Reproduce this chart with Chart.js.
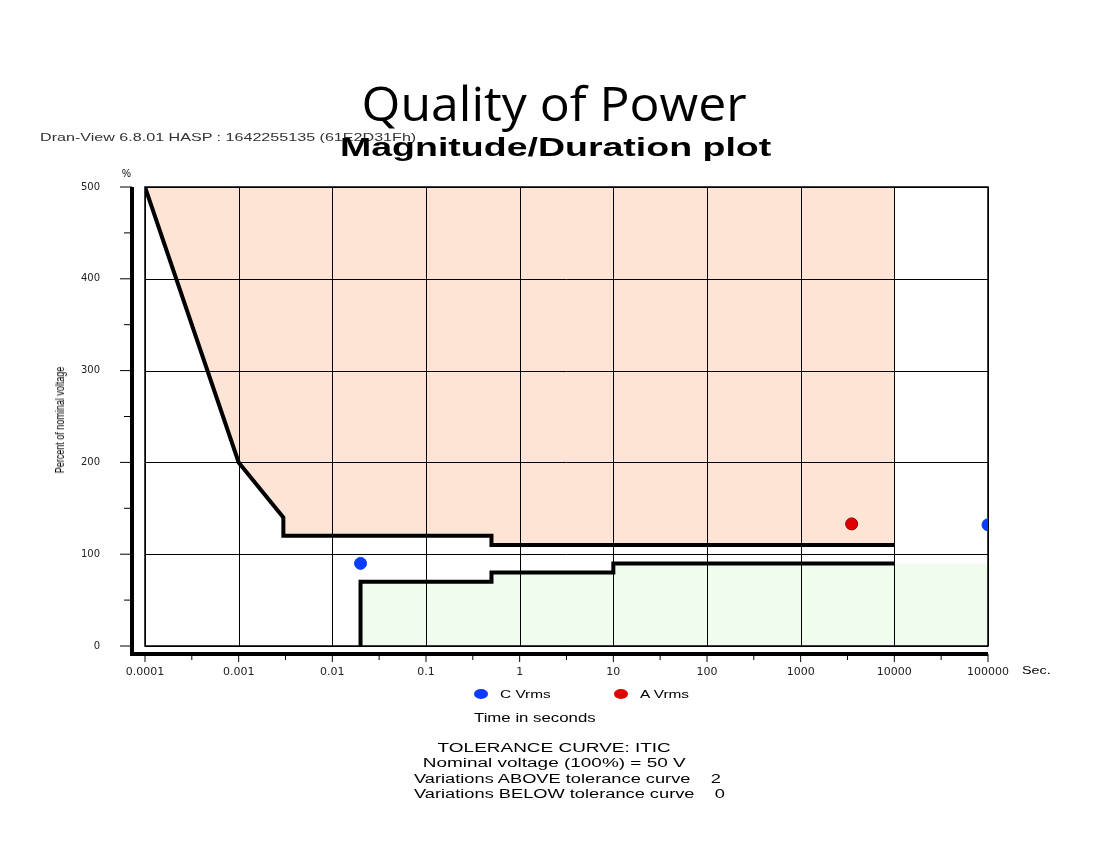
<!DOCTYPE html>
<html><head><meta charset="utf-8">
<script src="https://cdn.jsdelivr.net/npm/chart.js@4"></script>
<style>
body{margin:0;background:#fff;font-family:"Liberation Sans",Arial,sans-serif;}
#wrap{position:relative;width:1108px;height:848px;overflow:hidden;}
canvas{position:absolute;left:0;top:0;}
.t{position:absolute;white-space:nowrap;color:#000;transform-origin:0 0;}
.w{transform:scaleX(1.4);}
</style></head><body>
<div id="wrap">
<canvas id="c" width="1108" height="848"></canvas>
<div class="t" style="left:0;width:1108px;text-align:center;top:70px;font-size:48px;font-family:'Open Sans',sans-serif;"><span style="display:inline-block;transform:scaleX(1.04);transform-origin:50% 0">Quality of Power</span></div>
<div class="t w" style="left:40px;top:131px;font-size:11.5px;color:#333;">Dran-View 6.8.01 HASP : 1642255135 (61E2D31Fh)</div>
<div class="t" style="left:340px;top:133px;font-size:25px;font-weight:bold;transform:scaleX(1.5);">Magnitude/Duration plot</div>
<div class="t" style="left:122px;top:168px;font-size:10px;">%</div>
<div class="t" style="left:60px;top:420px;font-size:12px;transform-origin:50% 50%;transform:translate(-50%,-50%) rotate(-90deg) scaleX(0.75);">Percent of nominal voltage</div>
<div class="t" style="left:1022px;top:664px;font-size:11px;transform:scaleX(1.3)">Sec.</div>
<div class="t" style="left:474px;top:688px;font-size:11px;"><span style="display:inline-block;width:14px;height:10px;border-radius:50%;background:#0a3cff;vertical-align:-1px;margin-right:12px"></span><span style="display:inline-block;transform:scaleX(1.4);transform-origin:0 0;width:100px">C Vrms</span><span style="display:inline-block;width:14px;height:10px;border-radius:50%;background:#e00000;vertical-align:-1px;margin:0 12px 0 14px"></span><span style="display:inline-block;transform:scaleX(1.4);transform-origin:0 0">A Vrms</span></div>
<div class="t w" style="left:474px;top:711px;font-size:12px;">Time in seconds</div>
<div class="t" style="left:0;width:1108px;text-align:center;top:741px;font-size:12px;line-height:15px;"><div style="display:inline-block;transform:scaleX(1.58);transform-origin:50% 0">TOLERANCE CURVE: ITIC<br>Nominal voltage (100%) = 50 V</div></div>
<div class="t" style="left:414px;top:772px;font-size:12px;line-height:15px;transform:scaleX(1.52)">Variations ABOVE tolerance curve&nbsp;&nbsp;&nbsp;&nbsp;2<br>Variations BELOW tolerance curve&nbsp;&nbsp;&nbsp;&nbsp;0</div>
</div>
<script>
const xTicks=[0.0001,0.001,0.01,0.1,1,10,100,1000,10000,100000];
const xTickLabels=['0.0001','0.001','0.01','0.1','1','10','100','1000','10000','100000'];
const upperX=[0.0001,0.001,0.003,0.003,0.5,0.5,10000];
const upperY=[500,200,140,120,120,110,110];
const lowerX=[0.02,0.02,0.5,0.5,10,10,10000];
const lowerY=[0,70,70,80,80,90,90];
const greenX=[0.02,0.02,0.5,0.5,10,10,100000];
const greenY=[0,70,70,80,80,90,90];
const cX=[0.02,100000], cY=[90,132];
const aX=[3500], aY=[133];
const pts=(xs,ys)=>xs.map((x,i)=>({x,y:ys[i]}));
const gridPlugin={id:'gridTop',beforeDatasetsDraw(ch){
 const c=ch.ctx,x=ch.scales.x,y=ch.scales.y,a=ch.chartArea;
 c.save();c.strokeStyle='#000';c.lineWidth=1;
 xTicks.forEach(t=>{const p=Math.round(x.getPixelForValue(t))+0.5;c.beginPath();c.moveTo(p,a.top);c.lineTo(p,a.bottom);c.stroke();});
 for(let v=0;v<=500;v+=100){const p=Math.round(y.getPixelForValue(v))+0.5;c.beginPath();c.moveTo(a.left,p);c.lineTo(a.right,p);c.stroke();}
 c.lineWidth=1.5;c.strokeRect(a.left,a.top,a.right-a.left,a.bottom-a.top);
 c.restore();},
 afterDraw(ch){
 const c=ch.ctx,x=ch.scales.x,y=ch.scales.y,a=ch.chartArea;
 c.save();c.strokeStyle='#000';c.lineWidth=4;
 c.beginPath();c.moveTo(132,a.top);c.lineTo(132,a.bottom+10);c.stroke();
 c.beginPath();c.moveTo(130,a.bottom+8);c.lineTo(a.right,a.bottom+8);c.stroke();
 c.lineWidth=1;
 for(let v=0;v<=500;v+=50){const p=y.getPixelForValue(v);c.beginPath();c.moveTo(v%100?124:120,p);c.lineTo(132,p);c.stroke();}
 xTicks.forEach((t,i)=>{let p=x.getPixelForValue(t);c.beginPath();c.moveTo(p,a.bottom+8);c.lineTo(p,a.bottom+16);c.stroke();
  if(i<xTicks.length-1){p=x.getPixelForValue(t*3.16);c.beginPath();c.moveTo(p,a.bottom+8);c.lineTo(p,a.bottom+14);c.stroke();}});
 c.restore();}};
new Chart(document.getElementById('c'),{
 type:'scatter',
 data:{datasets:[
  {data:pts(greenX,greenY),showLine:true,borderWidth:0,borderColor:'rgba(0,0,0,0)',pointRadius:0,fill:'origin',backgroundColor:'#effcee',order:5},
  {data:pts(upperX,upperY),showLine:true,borderWidth:0,borderColor:'rgba(0,0,0,0)',pointRadius:0,fill:'end',backgroundColor:'#fde4d4',order:5},
  {data:pts(upperX,upperY),showLine:true,borderColor:'#000',borderWidth:4,pointRadius:0,fill:false,order:2},
  {data:pts(lowerX,lowerY),showLine:true,borderColor:'#000',borderWidth:4,pointRadius:0,fill:false,order:2},
  {label:'C Vrms',data:pts(cX,cY),pointRadius:6,backgroundColor:'#0a3cff',borderColor:'#0a3cff',order:1},
  {label:'A Vrms',data:pts(aX,aY),pointRadius:6,backgroundColor:'#e00000',borderColor:'#8a0000',order:1}
 ]},
 options:{responsive:false,animation:false,
  layout:{padding:{left:0,top:187,right:120,bottom:162}},
  plugins:{legend:{display:false},tooltip:{enabled:false},filler:{drawTime:'beforeDatasetsDraw'}},
  scales:{
   x:{type:'logarithmic',min:0.0001,max:100000,
    afterBuildTicks(s){s.ticks=xTicks.map(v=>({value:v}));},
    afterFit(s){s.height=40;},
    grid:{display:false},border:{display:false},
    ticks:{padding:12,maxRotation:0,autoSkip:false,font:{size:11,family:'DejaVu Sans'},color:'#222',callback:(v,i)=>xTickLabels[i]}},
   y:{min:0,max:500,afterFit(s){s.width=145;},
    grid:{display:false},border:{display:false},
    ticks:{stepSize:100,padding:37,font:{size:10,family:'DejaVu Sans'},color:'#222'}}
  }},
 plugins:[gridPlugin]});
</script></body></html>
